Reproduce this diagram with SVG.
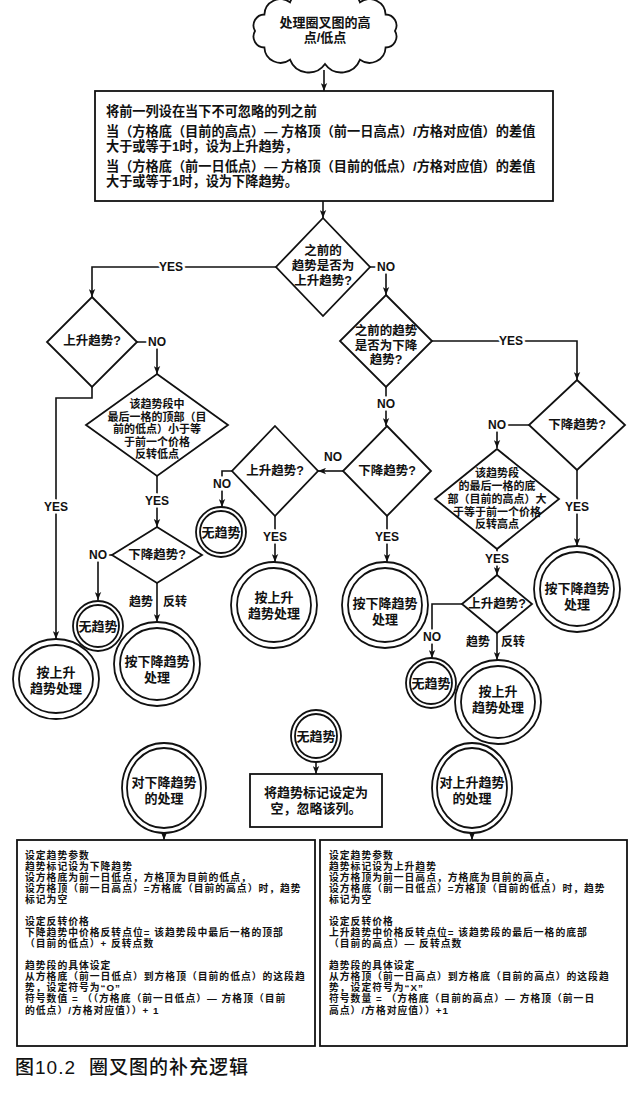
<svg xmlns="http://www.w3.org/2000/svg" width="633" height="1095" viewBox="0 0 633 1095">
<style>
.bg{fill:#fff}
.ln{fill:none;stroke:#111;stroke-width:1.6}
.sh{fill:#fff;stroke:#111;stroke-width:1.8}
.t{font-family:"Liberation Sans","Noto Sans CJK SC",sans-serif;font-weight:bold;fill:#111;text-anchor:middle;dominant-baseline:central}
.s13{font-size:13px}
.s12{font-size:12.5px}
.s11{font-size:11px}
.bx{font-family:"Liberation Sans","Noto Sans CJK SC",sans-serif;font-weight:bold;fill:#111;font-size:9.8px;letter-spacing:1px;dominant-baseline:central}
.mt{font-family:"Liberation Sans","Noto Sans CJK SC",sans-serif;font-weight:bold;fill:#111;font-size:13.2px;dominant-baseline:central}
.lb{font-family:"Liberation Sans",Arial,sans-serif;font-weight:bold;font-size:12px;fill:#111;text-anchor:middle;dominant-baseline:central}
.lc{font-family:"Liberation Sans","Noto Sans CJK SC",sans-serif;font-weight:bold;font-size:12px;fill:#111;text-anchor:middle;dominant-baseline:central}
.halo{stroke:#fff;stroke-width:5;paint-order:stroke}
.cap{font-family:"Liberation Sans","Noto Sans CJK SC",sans-serif;font-weight:500;font-size:19px;fill:#111;letter-spacing:1px;dominant-baseline:central}
</style>
<defs>
<marker id="ah" viewBox="0 0 10 8" refX="10" refY="4" markerWidth="8" markerHeight="7" markerUnits="userSpaceOnUse" orient="auto">
<path d="M0,0 L10,4 L0,8 L2.5,4 z" fill="#111"/>
</marker>
</defs>
<rect class="bg" x="0" y="0" width="633" height="1095"/>

<g id="connectors">
<path class="ln" d="M324,70 V91" marker-end="url(#ah)"/>
<path class="ln" d="M323,201 V218" marker-end="url(#ah)"/>
<path class="ln" d="M276,267 H92 V297" marker-end="url(#ah)"/>
<path class="ln" d="M137,342 H157 V374" marker-end="url(#ah)"/>
<path class="ln" d="M92,387 V398 H56 V639" marker-end="url(#ah)"/>
<path class="ln" d="M157,476 V527" marker-end="url(#ah)"/>
<path class="ln" d="M112,555 H98 V600" marker-end="url(#ah)"/>
<path class="ln" d="M157,583 V622" marker-end="url(#ah)"/>
<path class="ln" d="M370,267 H386 V295" marker-end="url(#ah)"/>
<path class="ln" d="M432,341 H577 V380" marker-end="url(#ah)"/>
<path class="ln" d="M529,425 H497 V448" marker-end="url(#ah)"/>
<path class="ln" d="M577,470 V546" marker-end="url(#ah)"/>
<path class="ln" d="M497,549 V575" marker-end="url(#ah)"/>
<path class="ln" d="M462,604 H432 V658" marker-end="url(#ah)"/>
<path class="ln" d="M497,633 V660" marker-end="url(#ah)"/>
<path class="ln" d="M386,387 V426" marker-end="url(#ah)"/>
<path class="ln" d="M343,471 H318" marker-end="url(#ah)"/>
<path class="ln" d="M232,471 H222 V507" marker-end="url(#ah)"/>
<path class="ln" d="M275,516 V562" marker-end="url(#ah)"/>
<path class="ln" d="M387,516 V562" marker-end="url(#ah)"/>
<path class="ln" d="M316,762 V774" marker-end="url(#ah)"/>
<path class="ln" d="M164,833 V840" marker-end="url(#ah)"/>
<path class="ln" d="M472,833 V840" marker-end="url(#ah)"/>
<text class="lb halo" x="171" y="267">YES</text>
<text class="lb halo" x="157" y="342">NO</text>
<text class="lb halo" x="56" y="507">YES</text>
<text class="lb halo" x="157" y="501">YES</text>
<text class="lb halo" x="98" y="555">NO</text>
<text class="lc" x="141" y="602">趋势</text>
<text class="lc" x="175" y="602">反转</text>
<text class="lb halo" x="386" y="267">NO</text>
<text class="lb halo" x="511" y="341">YES</text>
<text class="lb halo" x="497" y="425">NO</text>
<text class="lb halo" x="577" y="507">YES</text>
<text class="lb halo" x="497" y="559">YES</text>
<text class="lb halo" x="432" y="637">NO</text>
<text class="lc" x="478" y="642">趋势</text>
<text class="lc" x="513" y="642">反转</text>
<text class="lb halo" x="386" y="404">NO</text>
<text class="lb" x="333" y="457">NO</text>
<text class="lb halo" x="222" y="484">NO</text>
<text class="lb halo" x="275" y="537">YES</text>
<text class="lb halo" x="387" y="537">YES</text>
</g>

<g id="start">
<path class="sh" d="M395,31 A11,11 0 0 1 385.6,47.5 A16,16 0 0 1 360,59.6 A20,20 0 0 1 325,64 A20,20 0 0 1 290,59.6 A16,16 0 0 1 264.4,47.5 A11,11 0 0 1 255,31 A11,11 0 0 1 264.4,14.5 A16,16 0 0 1 290,2.4 A20,20 0 0 1 325,-2 A20,20 0 0 1 360,2.4 A16,16 0 0 1 385.6,14.5 A11,11 0 0 1 395,31 Z"/>
<text class="t s13"><tspan x="325" y="22">处理圈叉图的高</tspan><tspan x="325" y="37">点/低点</tspan></text>
</g>

<g id="init">
<rect class="sh" x="95" y="91" width="458" height="110"/>
<text class="mt"><tspan x="106" y="111">将前一列设在当下不可忽略的列之前</tspan><tspan x="106" y="131">当（方格底（目前的高点）— 方格顶（前一日高点）/方格对应值）的差值</tspan><tspan x="106" y="146">大于或等于1时，设为上升趋势，</tspan><tspan x="106" y="166">当（方格底（前一日低点）— 方格顶（目前的低点）/方格对应值）的差值</tspan><tspan x="106" y="181">大于或等于1时，设为下降趋势。</tspan></text>
</g>

<g id="d-prev-up">
<polygon class="sh" points="323,218 370,267 323,316 276,267"/>
<text class="t s12"><tspan x="323" y="251">之前的</tspan><tspan x="323" y="266">趋势是否为</tspan><tspan x="323" y="281">上升趋势?</tspan></text>
</g>

<g id="d-up-left">
<polygon class="sh" points="92,297 137,342 92,387 47,342"/>
<text class="t s12" x="92" y="341">上升趋势?</text>
</g>

<g id="d-low-check">
<polygon class="sh" points="157,374 228,425 157,476 86,425"/>
<text class="t s11"><tspan x="157" y="404">该趋势段中</tspan><tspan x="157" y="416.5">最后一格的顶部（目</tspan><tspan x="157" y="429">前的低点）小于等</tspan><tspan x="157" y="441.5">于前一个价格</tspan><tspan x="157" y="454">反转低点</tspan></text>
</g>

<g id="d-down-ll">
<polygon class="sh" points="157,527 202,555 157,583 112,555"/>
<text class="t s12" x="157" y="555">下降趋势?</text>
</g>

<g id="d-prev-down">
<polygon class="sh" points="386,295 432,341 386,387 340,341"/>
<text class="t s12"><tspan x="386" y="331">之前的趋势</tspan><tspan x="386" y="345.5">是否为下降</tspan><tspan x="386" y="360">趋势?</tspan></text>
</g>

<g id="d-down-c">
<polygon class="sh" points="387,426 431,471 387,516 343,471"/>
<text class="t s12" x="387" y="471">下降趋势?</text>
</g>

<g id="d-up-c">
<polygon class="sh" points="275,426 318,471 275,516 232,471"/>
<text class="t s12" x="275" y="471">上升趋势?</text>
</g>

<g id="d-down-r">
<polygon class="sh" points="577,380 625,425 577,470 529,425"/>
<text class="t s12" x="577" y="425">下降趋势?</text>
</g>

<g id="d-high-check">
<polygon class="sh" points="497,449 559,499 497,549 435,499"/>
<text class="t s11"><tspan x="497" y="473">该趋势段</tspan><tspan x="497" y="486">的最后一格的底</tspan><tspan x="497" y="499">部（目前的高点）大</tspan><tspan x="497" y="512">于等于前一个价格</tspan><tspan x="497" y="524">反转高点</tspan></text>
</g>

<g id="d-up-rr">
<polygon class="sh" points="497,575 532,604 497,633 462,604"/>
<text class="t s12" x="497" y="604">上升趋势?</text>
</g>

<g id="c-up-l">
<ellipse class="sh" cx="56" cy="679" rx="43" ry="40"/>
<ellipse class="sh" cx="56" cy="679" rx="37" ry="34"/>
<text class="t s13"><tspan x="56" y="672">按上升</tspan><tspan x="56" y="688">趋势处理</tspan></text>
</g>

<g id="c-none-l">
<ellipse class="sh" cx="98" cy="626" rx="25" ry="25"/>
<ellipse class="sh" cx="98" cy="626" rx="21" ry="21"/>
<text class="t s13" x="98" y="626">无趋势</text>
</g>

<g id="c-down-l">
<ellipse class="sh" cx="157" cy="664" rx="43" ry="42"/>
<ellipse class="sh" cx="157" cy="664" rx="37" ry="36"/>
<text class="t s13"><tspan x="157" y="661">按下降趋势</tspan><tspan x="157" y="677">处理</tspan></text>
</g>

<g id="c-none-cl">
<ellipse class="sh" cx="221" cy="532" rx="25" ry="25"/>
<ellipse class="sh" cx="221" cy="532" rx="21" ry="21"/>
<text class="t s13" x="221" y="532">无趋势</text>
</g>

<g id="c-up-c">
<ellipse class="sh" cx="274" cy="605" rx="43" ry="43"/>
<ellipse class="sh" cx="274" cy="605" rx="37" ry="37"/>
<text class="t s13"><tspan x="274" y="597">按上升</tspan><tspan x="274" y="613">趋势处理</tspan></text>
</g>

<g id="c-down-c">
<ellipse class="sh" cx="385" cy="605" rx="43" ry="43"/>
<ellipse class="sh" cx="385" cy="605" rx="37" ry="37"/>
<text class="t s13"><tspan x="385" y="603">按下降趋势</tspan><tspan x="385" y="619">处理</tspan></text>
</g>

<g id="c-down-r">
<ellipse class="sh" cx="577" cy="589" rx="43" ry="43"/>
<ellipse class="sh" cx="577" cy="589" rx="37" ry="37"/>
<text class="t s13"><tspan x="577" y="588">按下降趋势</tspan><tspan x="577" y="604">处理</tspan></text>
</g>

<g id="c-none-r">
<ellipse class="sh" cx="431" cy="683" rx="25" ry="25"/>
<ellipse class="sh" cx="431" cy="683" rx="21" ry="21"/>
<text class="t s13" x="431" y="683">无趋势</text>
</g>

<g id="c-up-r">
<ellipse class="sh" cx="498" cy="702" rx="43" ry="42"/>
<ellipse class="sh" cx="498" cy="702" rx="37" ry="36"/>
<text class="t s13"><tspan x="498" y="691">按上升</tspan><tspan x="498" y="707">趋势处理</tspan></text>
</g>

<g id="c-none-b">
<ellipse class="sh" cx="316" cy="736" rx="25" ry="26"/>
<ellipse class="sh" cx="316" cy="736" rx="21" ry="22"/>
<text class="t s13" x="316" y="736">无趋势</text>
</g>

<g id="r-none">
<rect class="sh" x="250" y="774" width="132" height="53"/>
<text class="t s13"><tspan x="316" y="792">将趋势标记设定为</tspan><tspan x="316" y="808">空，忽略该列。</tspan></text>
</g>

<g id="c-down-proc">
<ellipse class="sh" cx="164" cy="788" rx="42" ry="45"/>
<ellipse class="sh" cx="164" cy="788" rx="37" ry="40"/>
<text class="t s13"><tspan x="164" y="782">对下降趋势</tspan><tspan x="164" y="798">的处理</tspan></text>
</g>

<g id="c-up-proc">
<ellipse class="sh" cx="472" cy="788" rx="40" ry="45"/>
<ellipse class="sh" cx="472" cy="788" rx="35" ry="40"/>
<text class="t s13"><tspan x="472" y="782">对上升趋势</tspan><tspan x="472" y="798">的处理</tspan></text>
</g>

<g id="box-down">
<rect class="sh" x="17" y="840" width="298" height="206"/>
<text class="bx"><tspan x="25" y="855">设定趋势参数</tspan><tspan x="25" y="866">趋势标记设为下降趋势</tspan><tspan x="25" y="877">设方格底为前一日低点，方格顶为目前的低点，</tspan><tspan x="25" y="888">设方格顶（前一日高点）=方格底（目前的高点）时，趋势</tspan><tspan x="25" y="899">标记为空</tspan><tspan x="25" y="921">设定反转价格</tspan><tspan x="25" y="932">下降趋势中价格反转点位= 该趋势段中最后一格的顶部</tspan><tspan x="25" y="943">（目前的低点）+ 反转点数</tspan><tspan x="25" y="965">趋势段的具体设定</tspan><tspan x="25" y="976">从方格底（前一日低点）到方格顶（目前的低点）的这段趋</tspan><tspan x="25" y="987">势，设定符号为“O”</tspan><tspan x="25" y="998">符号数值 = （（方格底（前一日低点）— 方格顶（目前</tspan><tspan x="25" y="1010">的低点）/方格对应值））+ 1</tspan></text>
</g>

<g id="box-up">
<rect class="sh" x="320" y="840" width="307" height="206"/>
<text class="bx"><tspan x="329" y="855">设定趋势参数</tspan><tspan x="329" y="866">趋势标记设为上升趋势</tspan><tspan x="329" y="877">设方格顶为前一日高点，方格底为目前的高点，</tspan><tspan x="329" y="888">设方格底（前一日低点）=方格顶（目前的低点）时，趋势</tspan><tspan x="329" y="899">标记为空</tspan><tspan x="329" y="921">设定反转价格</tspan><tspan x="329" y="932">上升趋势中价格反转点位= 该趋势段的最后一格的底部</tspan><tspan x="329" y="943">（目前的高点）— 反转点数</tspan><tspan x="329" y="965">趋势段的具体设定</tspan><tspan x="329" y="976">从方格顶（前一日高点）到方格底（目前的高点）的这段趋</tspan><tspan x="329" y="987">势，设定符号为“X”</tspan><tspan x="329" y="998">符号数量 = （方格底（目前的高点）— 方格顶（前一日</tspan><tspan x="329" y="1010">高点）/方格对应值））+1</tspan></text>
</g>

<g id="caption">
<text class="cap" y="1067"><tspan x="15">图10.2</tspan><tspan x="89">圈叉图的补充逻辑</tspan></text>
</g>
</svg>
